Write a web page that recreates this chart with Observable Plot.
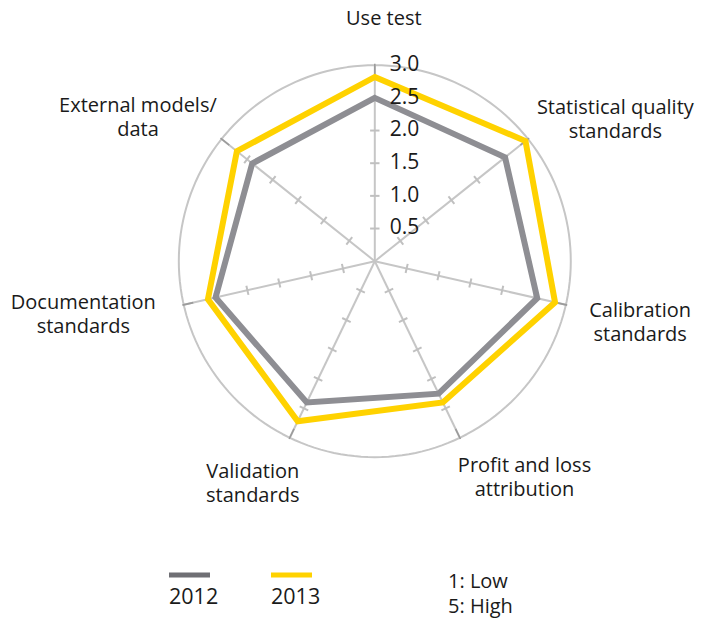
<!DOCTYPE html>
<html><head><meta charset="utf-8">
<script src="https://cdn.jsdelivr.net/npm/d3@7"></script>
<script src="https://cdn.jsdelivr.net/npm/@observablehq/plot@0.6"></script>
<style>
body{margin:0;background:#fff;font-family:"Open Sans",sans-serif;}
#chart{width:710px;}
#legend{display:block;}
</style></head><body><div id="chart"></div>
<script>
// ---- data ----
const categories = ["Use test","Statistical quality\nstandards","Calibration\nstandards","Profit and loss\nattribution","Validation\nstandards","Documentation\nstandards","External models/\ndata"];
const values2012 = [2.5, 2.55, 2.55, 2.25, 2.4, 2.5, 2.4];
const values2013 = [2.82, 2.95, 2.83, 2.4, 2.72, 2.62, 2.7];
const tickValues = [0.5, 1.0, 1.5, 2.0, 2.5, 3.0];
const tickLabels = ["0.5", "1.0", "1.5", "2.0", "2.5", "3.0"];
const seriesNames = ["2012", "2013"];
const scaleNotes = ["1: Low", "5: High"];

// ---- layout (not data) ----
const W = 710, H = 560;
const cx = 374.3, cy = 260.7, k = 65.33; // px per unit
const rMax = d3.max(tickValues);
const n = categories.length;
const FONT = '"Open Sans", sans-serif';
const colors = {"2012": "#8e8e93", "2013": "#ffd200"};
const legendColors = {"2012": "#6f6f74", "2013": "#ffd200"};
// small per-label pixel nudges [dx, dy] applied to the category label placement
const labelNudge = [[9, -6], [3, 13], [-4, 5], [23, -10], [-4, -4], [-1, -3], [1, 11]];

const ang = i => i * 2 * Math.PI / n;
const sx = i => Math.sin(ang(i)), sy = i => Math.cos(ang(i));

const rows = [];
[values2012, values2013].forEach((vals, s) => {
  vals.forEach((v, i) => rows.push({series: seriesNames[s], cat: categories[i], i, v, x: v * sx(i), y: v * sy(i)}));
});

const axes = categories.map((c, i) => ({i}));
const ticks = [];
axes.forEach(({i}) => tickValues.filter(t => t < rMax).forEach(t => ticks.push({i, t})));
const h = 4.7 / k;

const circle = d3.range(0, 361, 2).map(a => ({x: rMax * Math.sin(a * Math.PI / 180), y: rMax * Math.cos(a * Math.PI / 180)}));

// label placement (measured text widths)
const ctx = document.createElement("canvas").getContext("2d");
ctx.font = `20px ${FONT}`;
const lineH = 24, Ra = 3.45;
const labelRows = categories.map((c, i) => {
  const lines = c.split("\n");
  const halfW = d3.max(lines, l => ctx.measureText(l).width) / 2;
  const halfH = lines.length * lineH / 2;
  const [ndx, ndy] = labelNudge[i];
  return {text: c,
    x: Ra * sx(i) + (sx(i) * halfW + ndx) / k,
    y: Ra * sy(i) + (sy(i) * halfH - ndy) / k};
});

const tickLabelRows = tickValues.map((t, j) => ({t, label: tickLabels[j]}));

const plot = Plot.plot({
  width: W, height: H, margin: 0,
  x: {domain: [-cx / k, (W - cx) / k], range: [0, W], axis: null},
  y: {domain: [(cy - H) / k, cy / k], range: [H, 0], axis: null},
  style: {fontFamily: FONT, background: "#fff"},
  marks: [
    Plot.line(circle, {x: "x", y: "y", stroke: "#c6c6c6", strokeWidth: 2}),
    Plot.link(axes, {x1: 0, y1: 0, x2: d => rMax * sx(d.i), y2: d => rMax * sy(d.i), stroke: "#c6c6c6", strokeWidth: 2}),
    Plot.link(ticks, {
      x1: d => d.t * sx(d.i) - h * sy(d.i), y1: d => d.t * sy(d.i) + h * sx(d.i),
      x2: d => d.t * sx(d.i) + h * sy(d.i), y2: d => d.t * sy(d.i) - h * sx(d.i),
      stroke: "#c0c0c0", strokeWidth: 2
    }),
    Plot.link(axes, {x1: d => 0.95 * rMax * sx(d.i), y1: d => 0.95 * rMax * sy(d.i), x2: d => 1.007 * rMax * sx(d.i), y2: d => 1.007 * rMax * sy(d.i), stroke: "#9b9b9b", strokeWidth: 1.6}),
    Plot.line(rows, {x: "x", y: "y", z: "series", stroke: d => colors[d.series], curve: "linear-closed", strokeWidth: 6, strokeLinejoin: "miter", strokeMiterlimit: 10}),
    Plot.text(tickLabelRows, {x: 0, y: "t", text: "label", textAnchor: "start", dx: 15, dy: -1, fontSize: 21, fill: "#1a1a1a", lineAnchor: "middle"}),
    Plot.text(labelRows, {x: "x", y: "y", text: "text", textAnchor: "middle", lineAnchor: "middle", fontSize: 20, lineHeight: lineH / 20, fill: "#1a1a1a"})
  ]
});
document.getElementById("chart").appendChild(plot);

// legend below the plot
const leg = d3.create("svg").attr("id", "legend").attr("width", W).attr("height", 58)
  .style("font-family", FONT);
const legX = [169, 271];
seriesNames.forEach((s, j) => {
  leg.append("line").attr("x1", legX[j]).attr("x2", legX[j] + 41).attr("y1", 15).attr("y2", 15)
    .attr("stroke", legendColors[s]).attr("stroke-width", 5);
  leg.append("text").attr("x", legX[j]).attr("y", 44).attr("fill", "#1a1a1a").style("font-size", "21.5px").text(s);
});
scaleNotes.forEach((t, j) => {
  leg.append("text").attr("x", 448).attr("y", 28 + j * 24.5).attr("fill", "#1a1a1a").style("font-size", "20px").text(t);
});
document.getElementById("chart").appendChild(leg.node());
</script></body></html>
